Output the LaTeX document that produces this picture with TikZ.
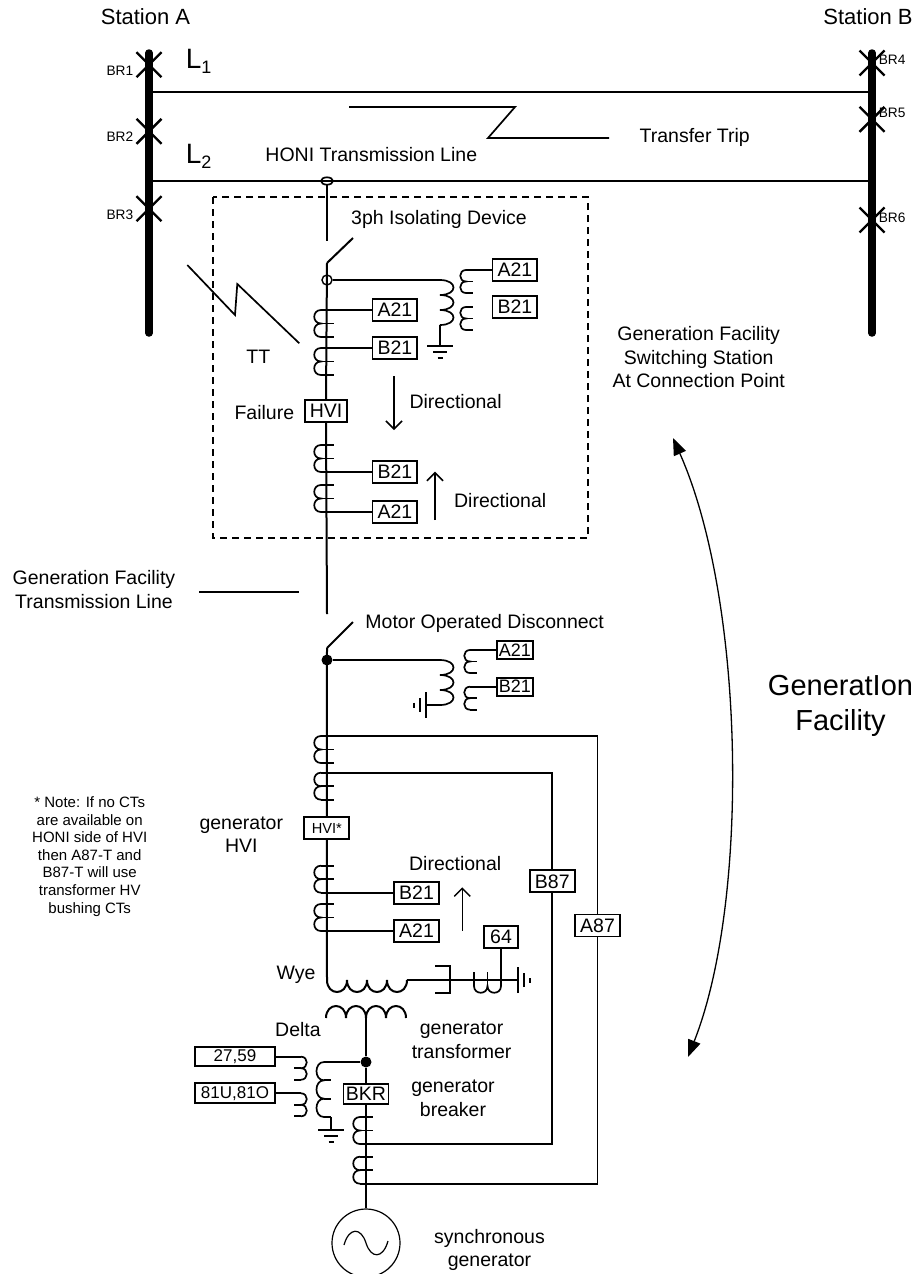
\documentclass[tikz,border=0pt]{standalone}
\usepackage{fontspec}
\setmainfont{Liberation Sans}
\usetikzlibrary{arrows.meta,positioning}
\tikzset{
    text-label/.style = {font=\fontsize{19.5}{23.3}\selectfont, inner sep=0pt, align=center},
    station-label/.style = {font=\fontsize{22}{26}\selectfont, inner sep=0pt},
    br-label/.style = {font=\fontsize{13.7}{16}\selectfont, inner sep=0pt},
    relay-box/.style = {draw, rectangle, line width=1.7pt, font=\fontsize{19.5}{23}\selectfont, inner xsep=5pt, inner ysep=0pt, minimum height=22pt},
    small-box/.style = {relay-box, font=\fontsize{18}{20}\selectfont, inner xsep=2pt, minimum height=18pt},
    bus-bar/.style = {line width=7.5pt, line cap=round},
    main-line/.style = {line width=2pt},
    switch-box/.style = {draw, dash pattern=on 7pt off 5pt, line width=1.2pt},
    dir-arrow/.style = {line width=1.5pt, -{Straight Barb[length=8pt,width=16pt]}},
    span-arrow/.style = {line width=1.3pt, {Triangle[length=17pt,width=13pt]}-{Triangle[length=17pt,width=13pt]}},
    brk-x/.pic = {\draw[line width=2.4pt] (-12.5,-12.5) -- (12.5,12.5) (-12.5,12.5) -- (12.5,-12.5);},
    ct/.pic = {
        \draw (-6,0) -- (7,0) (-6,13.5) -- (7,13.5) (-6,27) -- (7,27);
        \draw (-6,0) .. controls (-15,0) and (-15,13.5) .. (-6,13.5)
                     .. controls (-15,13.5) and (-15,27) .. (-6,27);
        \coordinate (-top) at (0,0);
        \coordinate (-bot) at (0,27);
    },
    ct-flat/.pic = {
        \draw (0,-8) -- (0,6) (13.5,-8) -- (13.5,6) (27,-8) -- (27,6);
        \draw (0,6) .. controls (0,15) and (13.5,15) .. (13.5,6)
                    .. controls (13.5,15) and (27,15) .. (27,6);
        \coordinate (-out) at (27,-8);
    },
    sec/.pic = {
        \draw (0,0) -- (7,0) (0,11.5) -- (7,11.5) (0,23) -- (7,23);
        \draw (0,0) .. controls (-7.7,0) and (-7.7,11.5) .. (0,11.5)
                    .. controls (-7.7,11.5) and (-7.7,23) .. (0,23);
        \coordinate (-out) at (7,0);
    },
    pt-coil/.pic = {
        \draw (0,0) .. controls (18,0) and (18,15) .. (0,15)
                    .. controls (18,15) and (18,30) .. (0,30)
                    .. controls (18,30) and (18,45) .. (0,45);
        \coordinate (-top) at (0,0);
        \coordinate (-bot) at (0,45);
    },
    vt-coil/.pic = {
        \draw (0,0) -- (7,0) (0,18.3) -- (7,18.3) (0,36.7) -- (7,36.7) (0,55) -- (7,55);
        \draw (0,0) .. controls (-10,0) and (-10,18.3) .. (0,18.3)
                    .. controls (-10,18.3) and (-10,36.7) .. (0,36.7)
                    .. controls (-10,36.7) and (-10,55) .. (0,55);
        \coordinate (-top) at (7,0);
        \coordinate (-bot) at (7,55);
    },
    gnd/.pic = {\draw (-13,0) -- (13,0) (-7,6) -- (7,6) (-2.5,12) -- (2.5,12);},
}

\begin{document}
\begin{tikzpicture}[x=1pt, y=-1pt, line width=1.7pt]
\useasboundingbox (0,0) rectangle (916,1274);

% stations, buses and lines
\node[station-label, anchor=base] (station-a) at (145.5,24) {Station A};
\node[station-label, anchor=base] (station-b) at (868,24) {Station B};
\draw[bus-bar] (149,53) coordinate (bus-a-top) -- (149,333) coordinate (bus-a-bot);
\draw[bus-bar] (872,53) coordinate (bus-b-top) -- (872,333) coordinate (bus-b-bot);
\pic at (149,64.7) {brk-x};
\pic at (149,131.3) {brk-x};
\pic at (149,208.7) {brk-x};
\pic at (872,63) {brk-x};
\pic at (872,119.3) {brk-x};
\pic at (872,220) {brk-x};
\node[br-label, anchor=base east] (br1) at (134,75) {BR1};
\node[br-label, anchor=base east] (br2) at (134,141.7) {BR2};
\node[br-label, anchor=base east] (br3) at (134,219.3) {BR3};
\node[br-label, anchor=base west] (br4) at (878,64) {BR4};
\node[br-label, anchor=base west] (br5) at (878,117.7) {BR5};
\node[br-label, anchor=base west] (br6) at (878,222.7) {BR6};
\coordinate (l1-a) at (153,92);
\coordinate (l1-b) at (868,92);
\coordinate (l2-a) at (153,181);
\coordinate (l2-b) at (868,181);
\draw[line width=1.9pt] (l1-a) -- (l1-b);
\draw[line width=1.9pt] (l2-a) -- (l2-b);
\node[anchor=base west, inner sep=0pt, font=\fontsize{28}{30}\selectfont] (l1-label) at (185,68) {L\raisebox{-5pt}{\fontsize{18}{18}\selectfont 1}};
\node[anchor=base west, inner sep=0pt, font=\fontsize{28}{30}\selectfont] (l2-label) at (185,163) {L\raisebox{-5pt}{\fontsize{18}{18}\selectfont 2}};
\node[text-label, anchor=base] (honi-label) at (371.3,161) {HONI Transmission Line};
\draw (349,107) -- (515,107) -- (488,138) -- (609,138);
\node[text-label, anchor=base] (tt-label) at (694.7,142.3) {Transfer Trip};

% switching station at connection point
\draw[switch-box] (213,197) rectangle (588,538);
\coordinate (tap) at (327,181);
\coordinate (iso-top) at (327,241);
\coordinate (iso-pivot) at (327,263);
\coordinate (iso-blade) at (353,238);
\draw (tap) ellipse [x radius=6pt, y radius=3.7pt];
\draw[main-line] (327,184.7) -- (iso-top);
\draw[main-line] (iso-pivot) -- (iso-blade);
\node[text-label, anchor=base] (iso-label) at (439,224) {3ph Isolating Device};
\node[draw, circle, inner sep=0pt, minimum size=10pt, line width=1.4pt] (pt-tap) at (327,280) {};
\node[relay-box, anchor=center] (hvi) at (326,411) {HVI};
\draw[main-line] (iso-pivot) -- (hvi.north);
\pic (ct-a) at (327,310) {ct};
\pic (ct-b) at (327,348) {ct};
\node[relay-box, right=44.7pt of ct-a-top] (a21-up) {A21};
\node[relay-box, right=44.7pt of ct-b-top] (b21-up) {B21};
\draw (ct-a-top) -- (a21-up);
\draw (ct-b-top) -- (b21-up);
\pic (pt-coil-a) at (440,280) {pt-coil};
\draw (pt-tap) -- (pt-coil-a-top);
\draw (pt-coil-a-bot) -- (440,346) coordinate (gnd-a);
\pic at (gnd-a) {gnd};
\pic (sec-a1) at (466,270) {sec};
\pic (sec-a2) at (466,307) {sec};
\node[relay-box, right=18.7pt of sec-a1-out] (a21-pt) {A21};
\node[relay-box, right=18.7pt of sec-a2-out] (b21-pt) {B21};
\draw (sec-a1-out) -- (a21-pt);
\draw (187.3,265) -- (235,315) -- (237.3,284) -- (299.3,343.3);
\node[text-label, anchor=base] (tt-short) at (258.3,363.3) {TT};
\node[text-label, anchor=base east] (failure) at (295,419.3) {Failure};
\draw[dir-arrow] (394,376) coordinate (dir-a-from) -- (394,430) coordinate (dir-a-to);
\node[text-label, anchor=base west] (dir-a) at (408.7,408.3) {Directional};
\pic (ct-c) at (327,445) {ct};
\pic (ct-d) at (327,485) {ct};
\node[relay-box, right=44.7pt of ct-c-bot] (b21-dn) {B21};
\node[relay-box, right=44.7pt of ct-d-bot] (a21-dn) {A21};
\draw (ct-c-bot) -- (b21-dn);
\draw (ct-d-bot) -- (a21-dn);
\draw[dir-arrow] (435,520) coordinate (dir-b-from) -- (435,471.7) coordinate (dir-b-to);
\node[text-label, anchor=base west] (dir-b) at (453.3,507.3) {Directional};
\node[text-label, anchor=north] (station-label) at (698.7,326) {Generation Facility\\Switching Station\\At Connection Point};

% generation facility line and disconnect
\coordinate (mod-top) at (327,614);
\coordinate (mod-pivot) at (327,648);
\coordinate (mod-blade) at (353,622);
\draw[main-line] (hvi.south) -- (mod-top);
\draw[main-line] (mod-pivot) -- (mod-blade);
\node[text-label, anchor=north] (gf-line-label) at (94,570) {Generation Facility\\Transmission Line};
\draw (199.3,591.7) coordinate (gf-line-a) -- (299.3,591.7) coordinate (gf-line-b);
\node[text-label, anchor=base] (mod-label) at (484.7,628.3) {Motor Operated Disconnect};
\node[circle, fill, inner sep=0pt, minimum size=11pt] (mod-dot) at (327,660) {};
\node[relay-box, anchor=center, font=\fontsize{14.6}{16}\selectfont, minimum width=45pt] (hvi-gen) at (326.8,828) {HVI*};
\draw[main-line] (mod-pivot) -- (hvi-gen.north);
\pic (mod-coil) at (440,660) {pt-coil};
\draw (mod-dot) -- (mod-coil-top);
\draw (mod-coil-bot) -- (426,705) coordinate (gnd-m);
\pic[rotate=-90] at (gnd-m) {gnd};
\pic (sec-m1) at (470,650) {sec};
\pic (sec-m2) at (470,686.7) {sec};
\node[small-box, right=19pt of sec-m1-out] (a21-mod) {A21};
\node[small-box, right=19pt of sec-m2-out] (b21-mod) {B21};
\draw (sec-m1-out) -- (a21-mod);
\draw (sec-m2-out) -- (b21-mod);

% transformer protection
\pic (ct-e) at (327,736) {ct};
\pic (ct-f) at (327,772.7) {ct};
\node[text-label, anchor=base] (hvi-gen-label) at (241.3,852.5) {generator\\HVI};
\node[anchor=north, inner sep=0pt, align=center, font=\fontsize{15}{17.55}\selectfont] (note) at (89.7,796) {* Note: If no CTs\\are available on\\HONI side of HVI\\then A87-T and\\B87-T will use\\transformer HV\\bushing CTs};
\pic (ct-g) at (327,865.7) {ct};
\pic (ct-h) at (327,904) {ct};
\node[relay-box, right=66.3pt of ct-g-bot] (b21-gen) {B21};
\node[relay-box, right=66.3pt of ct-h-bot] (a21-gen) {A21};
\draw (ct-g-bot) -- (b21-gen);
\draw (ct-h-bot) -- (a21-gen);
\node[text-label, anchor=base west] (dir-c) at (408.3,870) {Directional};
\draw[dir-arrow] (462.3,930.7) coordinate (dir-c-from) -- (462.3,887.3) coordinate (dir-c-to);

% generator transformer
\coordinate (wye-l) at (327,980);
\coordinate (wye-r) at (407,980);
\draw[main-line] (hvi-gen.south) -- (wye-l)
    \foreach \i in {1,...,4} { .. controls +(0,16) and +(0,16) .. ++(20,0) };
\node[text-label, anchor=base] (wye-label) at (296,979) {Wye};
\draw (wye-r) -- (518,980) coordinate (gnd-n);
\draw (435,966) -- (450,966) -- (450,993) -- (435,993);
\pic (ct-n) at (474,980) {ct-flat};
\node[relay-box, inner xsep=6pt] (r64) at (501,937) {64};
\draw (r64) -- (ct-n-out);
\pic[rotate=90] at (gnd-n) {gnd};
\draw[main-line] (326,1018)
    \foreach \i in {1,...,4} { .. controls +(0,-16) and +(0,-16) .. ++(20,0) };
\node[text-label, anchor=base] (delta-label) at (298,1036.7) {Delta};
\node[text-label, anchor=base] (xfmr-label) at (461.6,1058) {generator\\transformer};
\node[circle, fill, inner sep=0pt, minimum size=11pt] (pt-dot) at (366,1062) {};
\node[relay-box, inner xsep=2.5pt, minimum height=20pt] (bkr) at (366,1094) {BKR};
\draw[main-line] (366,1018) -- (pt-dot) -- (bkr);
\node[text-label, anchor=base] (bkr-label) at (453,1116) {generator\\breaker};

% voltage transformer
\pic (vt) at (324,1062) {vt-coil};
\draw (pt-dot) -- (vt-top);
\draw (vt-bot) -- (331,1130) coordinate (gnd-v);
\pic at (gnd-v) {gnd};
\pic[xscale=-1] (vt-s1) at (301,1056.7) {sec};
\pic[xscale=-1] (vt-s2) at (301,1093.3) {sec};
\node[relay-box, font=\fontsize{17}{19}\selectfont, minimum width=80pt, minimum height=19pt] (r2759) at (235,1056.7) {27,59};
\node[relay-box, font=\fontsize{17}{19}\selectfont, minimum width=80pt, minimum height=20pt] (r81) at (235,1093.3) {81U,81O};
\draw (r2759) -- (vt-s1-out);
\draw (r81) -- (vt-s2-out);

% differential loops and generator
\pic (ct-i) at (366,1117) {ct};
\pic (ct-j) at (366,1156.7) {ct};
\node[relay-box] (b87) at (552.3,881.3) {B87};
\node[relay-box] (a87) at (597.5,925.5) {A87};
\draw (ct-e-top) -| (a87.north) (a87.south) |- (ct-j-bot);
\draw (ct-f-top) -| (b87.north) (b87.south) |- (ct-i-bot);
\node[draw, circle, inner sep=0pt, minimum size=68pt, line width=1.2pt] (gen) at (366,1243) {};
\draw[main-line] (bkr) -- (gen);
\draw[line width=1.2pt] (344,1245) .. controls (349,1227) and (361,1227) .. (366,1243)
    .. controls (371,1259) and (383,1259) .. (388,1241);
\node[text-label, anchor=base] (gen-label) at (489.5,1266.7) {synchronous\\generator};

% extent of the generation facility
\coordinate (span-top) at (673,438);
\coordinate (span-bot) at (688,1057);
\draw[span-arrow] (span-top) .. controls (745,600) and (750,900) .. (span-bot);
\node[anchor=base, inner sep=0pt, align=center, font=\fontsize{29}{34.3}\selectfont] (facility-label) at (840.5,730) {GeneratIon\\Facility};
\end{tikzpicture}
\end{document}
